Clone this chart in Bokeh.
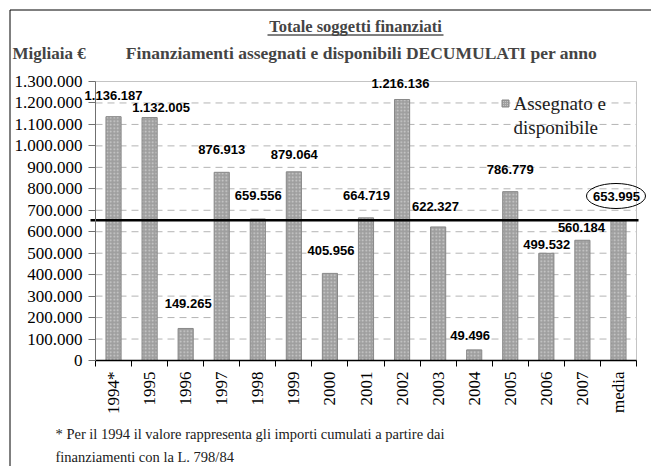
import math
import subprocess
from bokeh.plotting import figure
from bokeh.models import (Range1d, FixedTicker, SingleIntervalTicker, Label,
                          LabelSet, ColumnDataSource)
from bokeh.core.properties import value
from bokeh.embed import file_html
from bokeh.resources import INLINE

# ---------------- data ----------------
categories = ["1994*", "1995", "1996", "1997", "1998", "1999", "2000", "2001",
              "2002", "2003", "2004", "2005", "2006", "2007", "media"]
values = [1136187, 1132005, 149265, 876913, 659556, 879064, 405956, 664719,
          1216136, 622327, 49496, 786779, 499532, 560184, 653995]
mean_value = 653995
y_ticks = list(range(0, 1300001, 100000))
series_name = ["Assegnato e", "disponibile"]
title_main = "Totale soggetti finanziati"
title_sub = "Finanziamenti assegnati e disponibili DECUMULATI per anno"
unit_label = "Migliaia €"
footnote = ["* Per il 1994 il valore rappresenta gli importi cumulati a partire dai",
            "finanziamenti con la L. 798/84"]

# label nudges (pixels), style only
label_dx = [0, 11.5, 2.5, 0, 0.5, 0.5, 1, 0.5, -1.6, -2.7, -4, 0, 0.5, -1, -2]
label_dy = [21, 10, 25, 23, 23, 17, 23, 22, 16, 20, 14, 22, 9, 13, 24]


def fmt(v):
    return f"{v:,}".replace(",", ".")


try:
    fl = subprocess.run(["fc-list"], capture_output=True, text=True).stdout
except Exception:
    fl = ""
if "Liberation Sans Narrow" in fl:
    vfont, vsize = "Liberation Sans Narrow", "16px"
else:
    vfont, vsize = "Liberation Sans", "13px"

SERIF = "Liberation Serif"

# ---------------- geometry (canvas pixels) ----------------
W, H = 651, 466
FL, FT, FR, FB = 95, 81, 636, 360      # plot area in pixels
N = len(categories)
YMAX = 1300000


def dx(px):
    return (px - FL) / (FR - FL) * N


def dy(py):
    return (FB - py) / (FB - FT) * YMAX


p = figure(width=W, height=H, output_backend="svg", toolbar_location=None,
           x_range=Range1d(dx(0), dx(W)), y_range=Range1d(dy(H), dy(0)),
           min_border=0)
p.background_fill_color = "white"
p.border_fill_color = "white"
p.outline_line_color = None
p.xgrid.visible = False
p.ygrid.visible = False

xs = [i + 0.5 for i in range(N)]
src = ColumnDataSource(dict(x=xs, top=values, cat=categories,
                            txt=[fmt(v) for v in values],
                            ldx=label_dx, ldy=label_dy))

# outer frame (left / top)
p.segment(x0=[dx(9.5), dx(9.5)], y0=[dy(9.5), dy(9.5)],
          x1=[dx(9.5), dx(W + 5)], y1=[dy(H + 5), dy(9.5)],
          line_color="black", line_width=1)

# grid lines (dashed)
gt = y_ticks[1:-1]
p.segment(x0=[0] * len(gt), x1=[N] * len(gt), y0=gt, y1=gt,
          line_color="#b4b4b4", line_dash="7 5", line_width=1)

# plot area border
p.quad(left=[0], right=[N], bottom=[0], top=[YMAX], fill_color=None,
       line_color="#c4c4c4", line_width=1)

p.vbar(x="x", top="top", width=0.42, source=src, fill_color="#9f9f9f",
       line_color="#888888", line_width=1, hatch_pattern="dot",
       hatch_color="#cfcfcf", hatch_scale=3.5, hatch_weight=1)

# mean line
p.segment(x0=[dx(90)], x1=[dx(638)], y0=[mean_value], y1=[mean_value],
          line_color="black", line_width=2.5)

# axes
p.xaxis.fixed_location = 0
p.xaxis.bounds = (0, N)
p.xaxis.ticker = FixedTicker(ticks=xs, minor_ticks=list(range(N + 1)))
p.xaxis.major_label_overrides = {x: c for x, c in zip(xs, categories)}
p.xaxis.major_tick_line_color = None
p.xaxis.minor_tick_line_color = "black"
p.xaxis.minor_tick_out = 6
p.xaxis.minor_tick_in = 0
p.xaxis.axis_line_color = "black"
p.xaxis.axis_line_width = 1.5
p.xaxis.major_label_orientation = math.pi / 2
p.xaxis.major_label_text_font = SERIF
p.xaxis.major_label_text_font_size = "17px"
p.xaxis.major_label_text_color = "black"
p.xaxis.major_label_standoff = 5

p.yaxis.fixed_location = 0
p.yaxis.bounds = (0, YMAX)
p.yaxis.ticker = SingleIntervalTicker(interval=100000, num_minor_ticks=0)
p.yaxis.major_label_overrides = {v: fmt(v) for v in y_ticks}
p.yaxis.axis_line_color = "#707070"
p.yaxis.major_tick_line_color = "#707070"
p.yaxis.major_tick_out = 7
p.yaxis.major_tick_in = 0
p.yaxis.minor_tick_line_color = None
p.yaxis.major_label_text_font = SERIF
p.yaxis.major_label_text_font_size = "17px"
p.yaxis.major_label_text_color = "black"
p.yaxis.major_label_standoff = 6

# value labels
p.add_layout(LabelSet(x="x", y="top", text="txt", source=src,
                      x_offset="ldx", y_offset="ldy",
                      text_font=value(vfont), text_font_size=vsize,
                      text_font_style="bold", text_color="black",
                      text_align="center", text_baseline="middle"))

# ellipse around the mean value label
p.ellipse(x=dx(615.5), y=dy(195.5), width=59, height=25, width_units="screen",
          height_units="screen", fill_color=None, line_color="black",
          line_width=1)

# legend (manual)
p.scatter(x=[dx(505)], y=[dy(103)], marker="square", size=7,
          fill_color="#9f9f9f", line_color="#888888", hatch_pattern="dot",
          hatch_color="#cfcfcf", hatch_scale=2)
for i, t in enumerate(series_name):
    p.add_layout(Label(x=dx(513), y=dy(103 + 24 * i), text=t,
                       text_font=SERIF, text_font_size="19px",
                       text_color="#202020", text_baseline="middle",
                       text_align="left"))

# titles
p.add_layout(Label(x=dx(355), y=dy(26), text=title_main, text_font=SERIF,
                   text_font_size="16.5px", text_font_style="bold",
                   text_align="center", text_baseline="middle"))
p.segment(x0=[dx(267)], x1=[dx(443)], y0=[dy(34.5)], y1=[dy(34.5)],
          line_color="black", line_width=1)
p.add_layout(Label(x=dx(361), y=dy(52), text=title_sub, text_font=SERIF,
                   text_font_size="17.5px", text_font_style="bold",
                   text_align="center", text_baseline="middle"))
p.add_layout(Label(x=dx(12), y=dy(53), text=unit_label, text_font=SERIF,
                   text_font_size="17px", text_font_style="bold",
                   text_align="left", text_baseline="middle"))

# footnote
for i, t in enumerate(footnote):
    p.add_layout(Label(x=dx(55), y=dy(433 + 23 * i), text=t, text_font=SERIF,
                       text_font_size="14.5px", text_color="#202020",
                       text_align="left", text_baseline="middle"))

open("out.html", "w").write(file_html(p, INLINE))
